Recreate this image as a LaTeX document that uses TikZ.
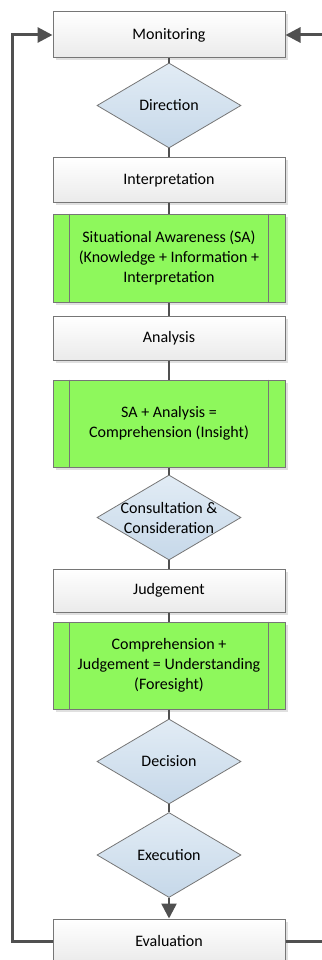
\documentclass[tikz,border=0pt]{standalone}
\usepackage{fontspec}
\setmainfont{Carlito}
\usetikzlibrary{arrows.meta, positioning, shapes.geometric, shadows}
\definecolor{ProcGreen}{HTML}{8EF85C}
\definecolor{DiaTop}{HTML}{E2ECF5}
\definecolor{DiaBot}{HTML}{C6D8E9}
\definecolor{LineGrey}{HTML}{505050}
\definecolor{EdgeGrey}{HTML}{767676}

\begin{document}
\begin{tikzpicture}[x=1pt, y=-1pt, >={Triangle[length=15pt, width=15pt]},
  txt/.style={font=\fontsize{16}{20}\selectfont, align=center, text=black},
  base/.style={txt, draw=EdgeGrey, line width=1pt, minimum width=232pt,
    drop shadow={shadow xshift=2.5pt, shadow yshift=-2.5pt, fill=black!12, opacity=1}},
  box/.style={base, top color=white, bottom color=black!8},
  proc/.style={base, fill=ProcGreen},
  dia/.style={diamond, draw=EdgeGrey, line width=0.8pt, top color=DiaTop, bottom color=DiaBot,
    minimum width=144pt, minimum height=85pt, inner sep=0pt},
  link/.style={draw=LineGrey, line width=2.5pt},
  loopback/.style={draw=LineGrey, line width=3pt}]
  \useasboundingbox (0,0) rectangle (321,960);
  % Main column
  \node[box, minimum height=46pt] (mon) at (169,35) {Monitoring};
  \node[dia, label={[txt]center:Direction}] (dir) at (169,105.5) {};
  \node[box, minimum height=44pt] (interp) at (169,180) {Interpretation};
  \node[proc, minimum height=88pt] (sa) at (169,258)
    {Situational Awareness (SA)\\(Knowledge + Information +\\Interpretation};
  \node[box, minimum height=44pt] (ana) at (169,338) {Analysis};
  \node[proc, minimum height=87pt] (ins) at (169,423.5)
    {SA + Analysis =\\Comprehension (Insight)};
  \node[dia, label={[txt]center:Consultation \&\\Consideration}] (cons) at (169,517.5) {};
  \node[box, minimum height=43pt] (judg) at (169,590.5) {Judgement};
  \node[proc, minimum height=87pt] (und) at (169,665.5)
    {Comprehension +\\Judgement = Understanding\\(Foresight)};
  \node[dia, label={[txt]center:Decision}] (dec) at (169,761.5) {};
  \node[dia, label={[txt]center:Execution}] (exe) at (169,855) {};
  \node[box, minimum height=44pt] (eval) at (169,941) {Evaluation};
  % Side bars of the process boxes
  \foreach \n in {sa, ins, und}
    \draw[draw=EdgeGrey, line width=1pt]
      ([xshift=17pt]\n.north west) -- ([xshift=17pt]\n.south west)
      ([xshift=-17pt]\n.north east) -- ([xshift=-17pt]\n.south east);
  % Connectors
  \foreach \a/\b in {mon/dir, dir/interp, interp/sa, sa/ana, ana/ins, ins/cons,
    cons/judg, judg/und, und/dec, dec/exe}
    \draw[link] (\a) -- (\b);
  \draw[link, ->] (exe) -- (eval);
  % Feedback loops
  \coordinate (lft) at (12,0);
  \coordinate (rgt) at (325,0);
  \draw[loopback, ->] (eval.west) -- (eval.west -| lft) -- (mon.west -| lft) -- (mon.west);
  \draw[loopback] (eval.east) -- (eval.east -| rgt);
  \draw[loopback, ->] (mon.east -| rgt) -- (mon.east);
\end{tikzpicture}
\end{document}
